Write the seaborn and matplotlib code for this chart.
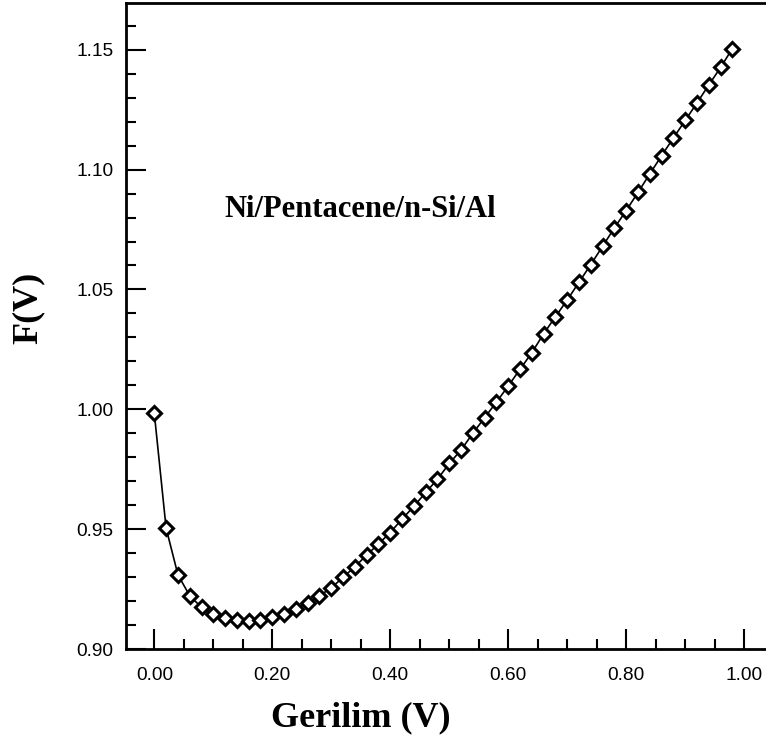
import numpy as np
import pandas as pd
import matplotlib
matplotlib.use("Agg")
import matplotlib.pyplot as plt
from matplotlib.ticker import MultipleLocator, FormatStrFormatter
import seaborn as sns

# ---- data ----
voltage = [0.00, 0.02, 0.04, 0.06, 0.08, 0.10, 0.12, 0.14, 0.16, 0.18,
           0.20, 0.22, 0.24, 0.26, 0.28, 0.30, 0.32, 0.34, 0.36, 0.38,
           0.40, 0.42, 0.44, 0.46, 0.48, 0.50, 0.52, 0.54, 0.56, 0.58,
           0.60, 0.62, 0.64, 0.66, 0.68, 0.70, 0.72, 0.74, 0.76, 0.78,
           0.80, 0.82, 0.84, 0.86, 0.88, 0.90, 0.92, 0.94, 0.96, 0.98]
f_values = [0.9983, 0.9504, 0.9310, 0.9222, 0.9174, 0.9146, 0.9128, 0.9122, 0.9118, 0.9122,
            0.9132, 0.9146, 0.9167, 0.9192, 0.9222, 0.9255, 0.9299, 0.9343, 0.9392, 0.9438,
            0.9486, 0.9542, 0.9595, 0.9653, 0.9708, 0.9774, 0.9830, 0.9900, 0.9965, 1.0030,
            1.0097, 1.0167, 1.0236, 1.0315, 1.0386, 1.0456, 1.0530, 1.0604, 1.0680, 1.0757,
            1.0829, 1.0905, 1.0982, 1.1058, 1.1132, 1.1205, 1.1278, 1.1353, 1.1426, 1.1505]
x_label = "Gerilim (V)"
y_label = "F(V)"
annotation = "Ni/Pentacene/n-Si/Al"

df = pd.DataFrame({"V": voltage, "F": f_values})

sns.set_theme(style="ticks")
plt.rcParams["font.family"] = ["Liberation Sans", "DejaVu Sans"]
plt.rcParams["text.color"] = "black"
plt.rcParams["axes.labelcolor"] = "black"

fig = plt.figure(figsize=(7.66, 7.45), dpi=100)
ax = fig.add_axes([126 / 766, (745 - 649) / 745, 1 - 126 / 766, (649 - 3) / 745])

sns.lineplot(data=df, x="V", y="F", ax=ax, color="black", linewidth=1.2,
             marker="D", markersize=6.8, markerfacecolor="white",
             markeredgecolor="black", markeredgewidth=2.2)

ax.set_xlim(-0.048, 1.037)
ax.set_ylim(0.90, 1.1695)

ax.xaxis.set_major_locator(MultipleLocator(0.2))
ax.xaxis.set_minor_locator(MultipleLocator(0.05))
ax.yaxis.set_major_locator(MultipleLocator(0.05))
ax.yaxis.set_minor_locator(MultipleLocator(0.01))
ax.xaxis.set_major_formatter(FormatStrFormatter("%.2f"))
ax.yaxis.set_major_formatter(FormatStrFormatter("%.2f"))

ax.tick_params(which="major", direction="in", length=14.5, width=1.5,
               labelsize=13.8, colors="black")
ax.tick_params(which="minor", direction="in", length=7.5, width=1.5, colors="black")
ax.tick_params(axis="x", which="major", pad=13)
ax.tick_params(axis="y", which="major", pad=9)
ax.tick_params(top=False, right=False, which="both")

for side in ["left", "bottom", "top"]:
    ax.spines[side].set_linewidth(2.0)
    ax.spines[side].set_color("black")
ax.spines["right"].set_visible(False)

serif = ["Liberation Serif", "DejaVu Serif"]
ax.set_xlabel(x_label, fontsize=26, fontweight="bold", family=serif, color="black")
ax.set_ylabel(y_label, fontsize=26, fontweight="bold", family=serif, color="black")
ax.xaxis.set_label_coords((361 - 126) / 640, -(718 - 649) / 646, transform=ax.transAxes)
ax.yaxis.set_label_coords(-(126 - 28) / 640, (649 - 308) / 646, transform=ax.transAxes)
ax.xaxis.label.set_va("center")
ax.yaxis.label.set_va("center")

ax.text(0.119, 1.0833, annotation, fontsize=22, fontweight="bold", family=serif,
        ha="left", va="center", color="black")

fig.savefig("out.png", dpi=100)
